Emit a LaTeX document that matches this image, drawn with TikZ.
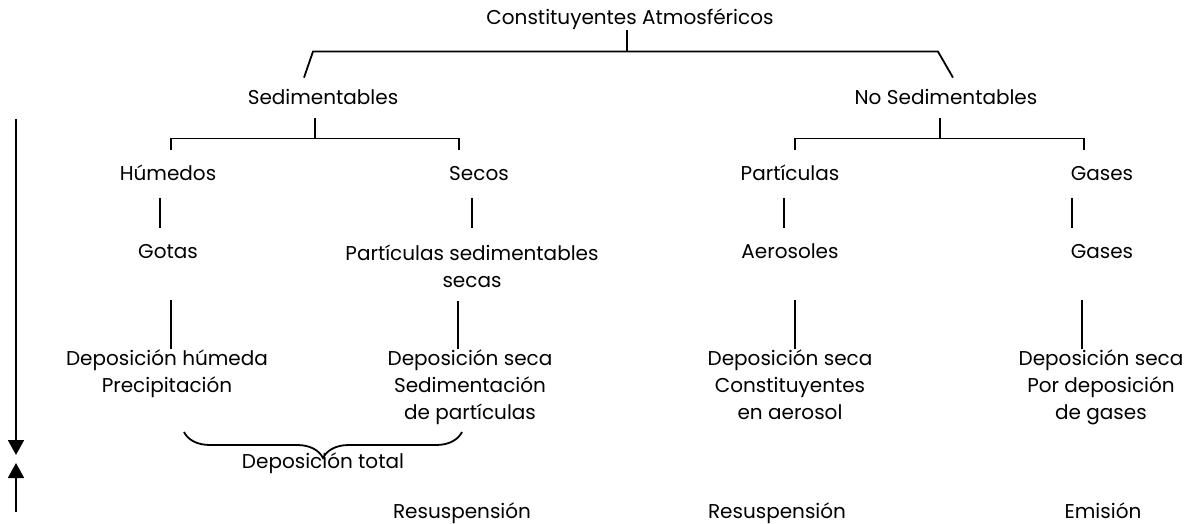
\documentclass[tikz,border=0pt]{standalone}
\usepackage{fontspec}
\setmainfont{Poppins}
\usepackage{tikz}
\usetikzlibrary{positioning, arrows.meta, decorations.pathreplacing}
\tikzstyle{textNode}=[inner sep=0pt, text height=8pt, text depth=2.5pt, font=\fontsize{10}{13.5}\selectfont]
\tikzstyle{blockNode}=[inner sep=0pt, anchor=north, align=center, font=\fontsize{10}{13.5}\selectfont]
\tikzstyle{treeLink}=[line width=0.9pt]
\tikzstyle{flowArrow}=[line width=0.9pt, -{Triangle[length=7.5pt,width=8pt]}]

\begin{document}
\begin{tikzpicture}[x=0.5pt, y=-0.5pt]

    \useasboundingbox (0,0) rectangle (1191,524);

    % nodes

    \node[textNode] (title) at (630,19) {Constituyentes Atmosféricos};

    \node[textNode] (sed) at (323,99) {Sedimentables};
    \node[textNode] (nosed) at (946,99) {No Sedimentables};

    \node[textNode] (hum) at (168,175) {Húmedos};
    \node[textNode] (sec) at (479,175) {Secos};
    \node[textNode] (par) at (790,175) {Partículas};
    \node[textNode] (gas) at (1102,175) {Gases};

    \node[textNode] (got) at (168,253) {Gotas};
    \node[blockNode] (psed) at (472,244) {Partículas sedimentables\\secas};
    \node[textNode] (aer) at (790,253) {Aerosoles};
    \node[textNode] (gasb) at (1102,253) {Gases};

    \node[blockNode] (dh) at (167,349) {Deposición húmeda\\Precipitación};
    \node[blockNode] (ds) at (470,349) {Deposición seca\\Sedimentación\\de partículas};
    \node[blockNode] (dc) at (790,349) {Deposición seca\\Constituyentes\\en aerosol};
    \node[blockNode] (dg) at (1101,349) {Deposición seca\\Por deposición\\de gases};

    \node[textNode] (total) at (323,463) {Deposición total};

    \node[textNode] (res1) at (462,513) {Resuspensión};
    \node[textNode] (res2) at (777,513) {Resuspensión};
    \node[textNode] (emi) at (1103,513) {Emisión};

    \coordinate (topbar) at (627,52);
    \coordinate (braceL) at (184,432);
    \coordinate (braceR) at (462,432);
    \coordinate (downA) at (16,119);
    \coordinate (downB) at (16,455);
    \coordinate (upA) at (16,512);
    \coordinate (upB) at (16,463);

    % tree

    \draw[treeLink] ([xshift=-1.5pt]title.south) -- (topbar);
    \draw[treeLink] ([xshift=-9.5pt,yshift=5.25pt]sed.north) -- ++(9,-26) -- ++(625,0) -- ([xshift=3.5pt,yshift=5.25pt]nosed.north);

    \draw[treeLink] ([xshift=-4pt,yshift=-4.25pt]sed.south) -- ++(0,21);
    \draw[treeLink] ([xshift=1.5pt,yshift=7.25pt]hum.north) -- ++(0,-11) -- ++(288,0) -- ([xshift=-10pt,yshift=7.25pt]sec.north);
    \draw[treeLink] ([xshift=-3pt,yshift=-4.25pt]nosed.south) -- ++(0,21);
    \draw[treeLink] ([xshift=2.5pt,yshift=7.25pt]par.north) -- ++(0,-11) -- ++(289,0) -- ([xshift=-9pt,yshift=7.25pt]gas.north);

    % connectors

    \draw[treeLink] ([xshift=-4pt,yshift=-6.25pt]hum.south) -- ([xshift=-4pt,yshift=7.25pt]got.north);
    \draw[treeLink] ([xshift=-3.5pt,yshift=-6.25pt]sec.south) -- ([yshift=8pt]psed.north);
    \draw[treeLink] ([xshift=-3pt,yshift=-6.25pt]par.south) -- ([xshift=-3pt,yshift=7.25pt]aer.north);
    \draw[treeLink] ([xshift=-15pt,yshift=-6.25pt]gas.south) -- ([xshift=-15pt,yshift=7.25pt]gasb.north);

    \draw[treeLink] ([xshift=1.5pt,yshift=-18.25pt]got.south) -- ([xshift=2pt]dh.north);
    \draw[treeLink] ([xshift=-7pt,yshift=-6.5pt]psed.south) -- ([xshift=-6pt]ds.north);
    \draw[treeLink] ([xshift=2.5pt,yshift=-18.25pt]aer.south) -- ([xshift=2.5pt]dc.north);
    \draw[treeLink] ([xshift=-10pt,yshift=-18.25pt]gasb.south) -- ([xshift=-9.5pt]dg.north);

    \draw[treeLink, decorate, decoration={brace, amplitude=13pt, mirror}] (braceL) -- (braceR);

    \draw[flowArrow] (downA) -- (downB);
    \draw[flowArrow] (upA) -- (upB);

\end{tikzpicture}
\end{document}
